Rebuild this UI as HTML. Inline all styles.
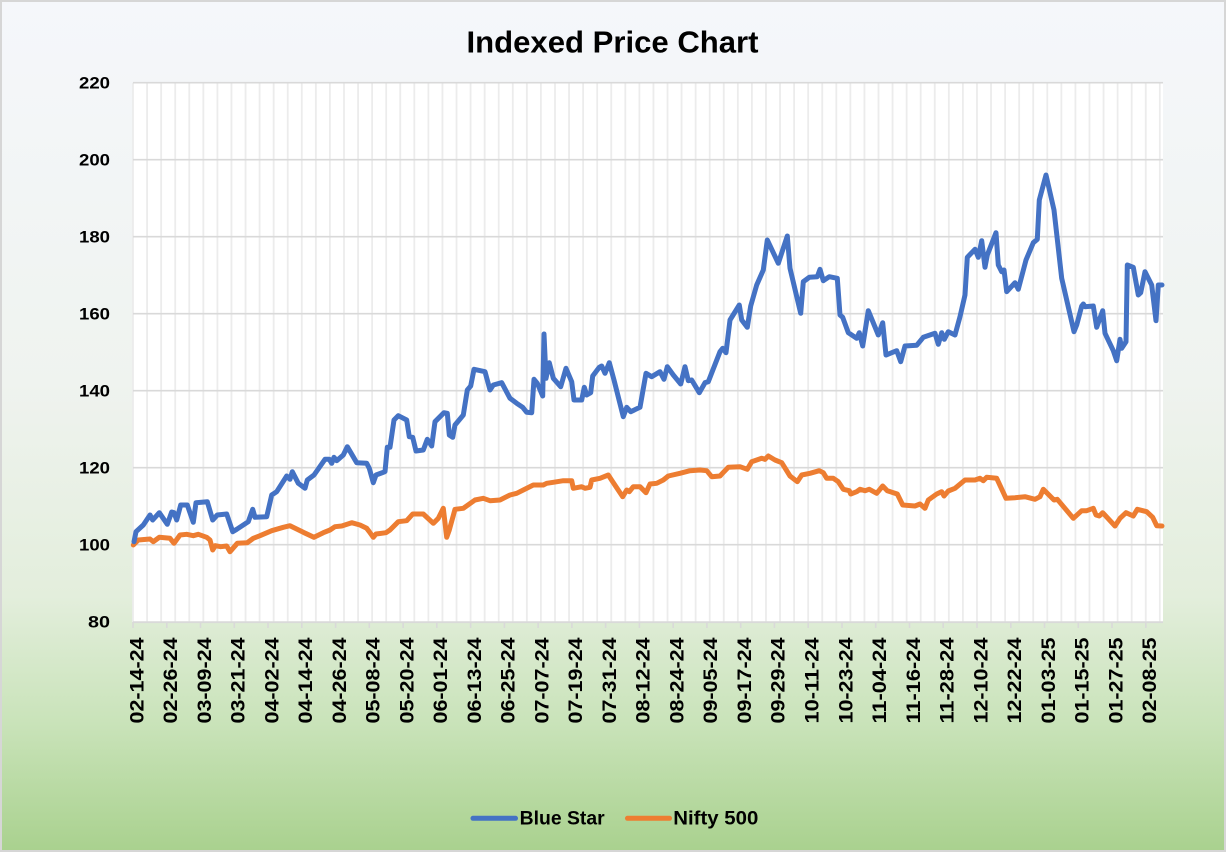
<!DOCTYPE html>
<html>
<head>
<meta charset="utf-8">
<style>
  html,body{margin:0;padding:0;}
  body{width:1226px;height:852px;overflow:hidden;}
  svg{display:block;font-family:"Liberation Sans",Arial,sans-serif;}
</style>
</head>
<body>
<svg width="1226" height="852" viewBox="0 0 1226 852" xmlns="http://www.w3.org/2000/svg">
  <defs>
    <linearGradient id="bg" x1="0" y1="0" x2="0" y2="1">
      <stop offset="0" stop-color="#f5f7fb"/>
      <stop offset="0.45" stop-color="#eff3ef"/>
      <stop offset="0.70" stop-color="#e3eedc"/>
      <stop offset="0.85" stop-color="#c9e3b9"/>
      <stop offset="1" stop-color="#a9d18e"/>
    </linearGradient>
  </defs>
  <rect x="0" y="0" width="1226" height="852" fill="url(#bg)"/>
  <rect x="1" y="1" width="1224" height="850" fill="none" stroke="#d6d6d6" stroke-width="2"/>

  <!-- plot area -->
  <rect x="133" y="82.7" width="1030" height="539.5" fill="#ffffff"/>

  <!-- vertical gridlines -->
  <path fill="none" stroke="#ececec" stroke-width="1.8" d="
M133,82.7V622 M147.07,82.7V622 M161.13,82.7V622 M175.2,82.7V622 M189.26,82.7V622 M203.33,82.7V622 M217.4,82.7V622 M231.46,82.7V622 M245.53,82.7V622 M259.59,82.7V622 M273.66,82.7V622 M287.73,82.7V622 M301.79,82.7V622 M315.86,82.7V622 M329.92,82.7V622 M343.99,82.7V622 M358.06,82.7V622 M372.12,82.7V622 M386.19,82.7V622 M400.25,82.7V622 M414.32,82.7V622 M428.39,82.7V622 M442.45,82.7V622 M456.52,82.7V622 M470.58,82.7V622 M484.65,82.7V622 M498.72,82.7V622 M512.78,82.7V622 M526.85,82.7V622 M540.91,82.7V622 M554.98,82.7V622 M569.05,82.7V622 M583.11,82.7V622 M597.18,82.7V622 M611.24,82.7V622 M625.31,82.7V622 M639.38,82.7V622 M653.44,82.7V622 M667.51,82.7V622 M681.57,82.7V622 M695.64,82.7V622 M709.71,82.7V622 M723.77,82.7V622 M737.84,82.7V622 M751.9,82.7V622 M765.97,82.7V622 M780.04,82.7V622 M794.1,82.7V622 M808.17,82.7V622 M822.23,82.7V622 M836.3,82.7V622 M850.37,82.7V622 M864.43,82.7V622 M878.5,82.7V622 M892.56,82.7V622 M906.63,82.7V622 M920.7,82.7V622 M934.76,82.7V622 M948.83,82.7V622 M962.89,82.7V622 M976.96,82.7V622 M991.03,82.7V622 M1005.09,82.7V622 M1019.16,82.7V622 M1033.22,82.7V622 M1047.29,82.7V622 M1061.36,82.7V622 M1075.42,82.7V622 M1089.49,82.7V622 M1103.55,82.7V622 M1117.62,82.7V622 M1131.69,82.7V622 M1145.75,82.7V622 M1159.82,82.7V622"/>

  <!-- horizontal gridlines -->
  <path fill="none" stroke="#d9d9d9" stroke-width="1.6" d="
M133,82.7H1163 M133,159.7H1163 M133,236.7H1163 M133,313.7H1163 M133,390.7H1163 M133,467.7H1163 M133,544.7H1163"/>
  <!-- x axis -->
  <path fill="none" stroke="#d9d9d9" stroke-width="1.8" d="M133,622.2H1163"/>
  <!-- ticks -->
  <path fill="none" stroke="#d9d9d9" stroke-width="1.6" d="
M133,622V628 M166.8,622V628 M200.5,622V628 M234.3,622V628 M268,622V628 M301.8,622V628 M335.6,622V628 M369.3,622V628 M403.1,622V628 M436.8,622V628 M470.6,622V628 M504.4,622V628 M538.1,622V628 M571.9,622V628 M605.6,622V628 M639.4,622V628 M673.2,622V628 M706.9,622V628 M740.7,622V628 M774.4,622V628 M808.2,622V628 M842,622V628 M875.7,622V628 M909.5,622V628 M943.2,622V628 M977,622V628 M1010.8,622V628 M1044.5,622V628 M1078.3,622V628 M1112,622V628 M1145.8,622V628"/>

  <!-- title -->
  <text x="612.5" y="52.7" text-anchor="middle" font-size="31" font-weight="bold" fill="#000" textLength="292" lengthAdjust="spacingAndGlyphs">Indexed Price Chart</text>

  <!-- y labels -->
  <g font-size="17" font-weight="bold" fill="#000" text-anchor="end">
    <text x="110" y="88.5" textLength="31" lengthAdjust="spacingAndGlyphs">220</text>
    <text x="110" y="165.5" textLength="31" lengthAdjust="spacingAndGlyphs">200</text>
    <text x="110" y="242.5" textLength="31" lengthAdjust="spacingAndGlyphs">180</text>
    <text x="110" y="319.5" textLength="31" lengthAdjust="spacingAndGlyphs">160</text>
    <text x="110" y="396.5" textLength="31" lengthAdjust="spacingAndGlyphs">140</text>
    <text x="110" y="473.5" textLength="31" lengthAdjust="spacingAndGlyphs">120</text>
    <text x="110" y="550.5" textLength="31" lengthAdjust="spacingAndGlyphs">100</text>
    <text x="110" y="627.5" textLength="22" lengthAdjust="spacingAndGlyphs">80</text>
  </g>

  <!-- x labels -->
  <g font-size="19" font-weight="bold" fill="#000" text-anchor="end">
    <text transform="translate(143.3,637.5) rotate(-90)" textLength="86" lengthAdjust="spacingAndGlyphs">02-14-24</text>
    <text transform="translate(177.1,637.5) rotate(-90)" textLength="86" lengthAdjust="spacingAndGlyphs">02-26-24</text>
    <text transform="translate(210.8,637.5) rotate(-90)" textLength="86" lengthAdjust="spacingAndGlyphs">03-09-24</text>
    <text transform="translate(244.6,637.5) rotate(-90)" textLength="86" lengthAdjust="spacingAndGlyphs">03-21-24</text>
    <text transform="translate(278.3,637.5) rotate(-90)" textLength="86" lengthAdjust="spacingAndGlyphs">04-02-24</text>
    <text transform="translate(312.1,637.5) rotate(-90)" textLength="86" lengthAdjust="spacingAndGlyphs">04-14-24</text>
    <text transform="translate(345.9,637.5) rotate(-90)" textLength="86" lengthAdjust="spacingAndGlyphs">04-26-24</text>
    <text transform="translate(379.6,637.5) rotate(-90)" textLength="86" lengthAdjust="spacingAndGlyphs">05-08-24</text>
    <text transform="translate(413.4,637.5) rotate(-90)" textLength="86" lengthAdjust="spacingAndGlyphs">05-20-24</text>
    <text transform="translate(447.1,637.5) rotate(-90)" textLength="86" lengthAdjust="spacingAndGlyphs">06-01-24</text>
    <text transform="translate(480.9,637.5) rotate(-90)" textLength="86" lengthAdjust="spacingAndGlyphs">06-13-24</text>
    <text transform="translate(514.7,637.5) rotate(-90)" textLength="86" lengthAdjust="spacingAndGlyphs">06-25-24</text>
    <text transform="translate(548.4,637.5) rotate(-90)" textLength="86" lengthAdjust="spacingAndGlyphs">07-07-24</text>
    <text transform="translate(582.2,637.5) rotate(-90)" textLength="86" lengthAdjust="spacingAndGlyphs">07-19-24</text>
    <text transform="translate(615.9,637.5) rotate(-90)" textLength="86" lengthAdjust="spacingAndGlyphs">07-31-24</text>
    <text transform="translate(649.7,637.5) rotate(-90)" textLength="86" lengthAdjust="spacingAndGlyphs">08-12-24</text>
    <text transform="translate(683.5,637.5) rotate(-90)" textLength="86" lengthAdjust="spacingAndGlyphs">08-24-24</text>
    <text transform="translate(717.2,637.5) rotate(-90)" textLength="86" lengthAdjust="spacingAndGlyphs">09-05-24</text>
    <text transform="translate(751,637.5) rotate(-90)" textLength="86" lengthAdjust="spacingAndGlyphs">09-17-24</text>
    <text transform="translate(784.7,637.5) rotate(-90)" textLength="86" lengthAdjust="spacingAndGlyphs">09-29-24</text>
    <text transform="translate(818.5,637.5) rotate(-90)" textLength="86" lengthAdjust="spacingAndGlyphs">10-11-24</text>
    <text transform="translate(852.3,637.5) rotate(-90)" textLength="86" lengthAdjust="spacingAndGlyphs">10-23-24</text>
    <text transform="translate(886,637.5) rotate(-90)" textLength="86" lengthAdjust="spacingAndGlyphs">11-04-24</text>
    <text transform="translate(919.8,637.5) rotate(-90)" textLength="86" lengthAdjust="spacingAndGlyphs">11-16-24</text>
    <text transform="translate(953.5,637.5) rotate(-90)" textLength="86" lengthAdjust="spacingAndGlyphs">11-28-24</text>
    <text transform="translate(987.3,637.5) rotate(-90)" textLength="86" lengthAdjust="spacingAndGlyphs">12-10-24</text>
    <text transform="translate(1021.1,637.5) rotate(-90)" textLength="86" lengthAdjust="spacingAndGlyphs">12-22-24</text>
    <text transform="translate(1054.8,637.5) rotate(-90)" textLength="86" lengthAdjust="spacingAndGlyphs">01-03-25</text>
    <text transform="translate(1088.6,637.5) rotate(-90)" textLength="86" lengthAdjust="spacingAndGlyphs">01-15-25</text>
    <text transform="translate(1122.3,637.5) rotate(-90)" textLength="86" lengthAdjust="spacingAndGlyphs">01-27-25</text>
    <text transform="translate(1156.1,637.5) rotate(-90)" textLength="86" lengthAdjust="spacingAndGlyphs">02-08-25</text>
  </g>

  <!-- Nifty 500 series -->
  <polyline fill="none" stroke="#ED7D31" stroke-width="5" stroke-linejoin="round" stroke-linecap="round" points="
133.3,545 138.3,540 150,539 153.3,541.7 159.3,537.3 170,538.3 174,543.3 180,535 186.7,534.3 193.3,535.7 198.3,534.3 206.7,537.3 210,540 212.7,550 215.3,545.7 220.7,546.7 226.7,546 230,551.7 237.3,543.3 247.3,542.7 253.3,538.3 260,535.7 271.7,530.7 283.3,527.3 290,525.7 303.3,532.3 314,537.3 323.3,532.7 330,530 335,526.7 341.7,526 351.7,522.7 360,525 366.7,528.3 369.3,531.7 373.3,537.3 376,534 386,532.7 390,530 398.3,521.7 406.7,520.7 412.7,514 423.3,514 433.3,523.3 438.3,518.3 443.3,508.3 446.7,537.3 449.3,530 455,509.3 463.3,508.3 475,500 483.3,498.3 490,500.7 500,500 510,495 516.7,493.3 523.3,490 533.3,485 543.3,485 546.7,483.3 553.3,482.3 563.3,480.7 571.7,480.7 573.3,488.3 581.7,486.7 585,488.3 590,487.3 591.7,480 600,478.3 608.3,475 612.7,481.7 622.7,496.7 626.7,490 629.3,491.7 633.3,486.7 640,486.7 646,492.7 650,484 656.7,483.3 663.3,480 668.3,476 680,473.3 690,470.7 700,470 706.7,470.7 711.7,476.7 720,476 724,471.7 728.3,467.3 740,466.7 747.3,469.3 751.7,461.7 761.7,458.3 765,459.3 768.3,456 775,460 781.7,462.7 790,476 797.3,481.7 801.7,475 810,473.3 819.3,470.7 823.3,472.7 826.7,478.3 833.3,478.3 838.3,481.7 843.3,489.3 849.3,490.7 850.7,494 856.7,491.7 860,489.3 865,490.7 869.3,489.3 876.7,493.3 882.7,486 887.3,490.7 893.3,492.7 897.3,494 902.7,505 915,506 920,504 925,508.3 928.3,500 936.7,494 941.7,491.7 944,496 948.3,491 955,488.3 965,480 975,480 980,478.3 983.3,480.7 986.7,477.3 996.7,478.3 1006,498.3 1015,497.7 1025,496.7 1035,499.3 1040,496.7 1043.3,489.3 1054,500 1057.3,499.3 1073.3,518.3 1081.7,510.7 1086.7,510.7 1093.3,508.3 1096,515 1099.3,516 1102.7,512.7 1115,526 1120,518.3 1126,512.7 1133.3,516 1137.3,509.3 1146.7,511.7 1152.7,517.3 1156.7,525.7 1162,526"/>

  <!-- Blue Star series -->
  <polyline fill="none" stroke="#4472C4" stroke-width="5" stroke-linejoin="round" stroke-linecap="round" points="
134,541.7 136,531.7 143.3,525 150,515 152.7,520 159.3,512.7 167.3,524.3 171.7,512 174,512.7 176.7,520 180.7,505 187.3,505 193.3,522.3 196,502.7 207.3,501.7 212.7,520 217.3,515 226.7,514 232.7,531.7 236.7,529.3 248.3,521.7 252.7,509.3 255,517.3 266.7,516.7 271.7,495 276.7,491.7 286.7,476 290,479.3 292.3,471.7 298.3,483.3 305,488.3 307.3,480 314,475 325,459.3 329.3,459.3 331.7,463.3 334,457.3 336.7,460.7 343.3,455 347.3,446.7 356.7,462.7 366.7,463.3 369.3,468.3 373.3,482.7 376,475 385,471.7 387.3,447.3 390,447.3 394,420 398.3,415.7 406.7,420 409.3,436.7 412.7,437.3 416,451 423.3,450 427.3,439.3 431.7,446 435,421.7 444,412.7 447.3,413.3 449.3,435 452.7,437.3 455,425 463.3,415 467.3,390 470.7,386 474,369.3 485,371.7 490,390 493.3,385 501.7,382.7 510,398.3 516.7,403.3 522.7,407.3 526.7,412.3 531.7,412.7 534,379.3 537.3,383.3 542.7,396 544,334 546,378.3 549.3,362.7 553.3,378.3 560.7,386.7 566,368.3 571.7,381.7 574,400 581.7,400 584.3,387.3 586.7,395 590.7,392.7 592.7,376 599.3,367.3 601.7,366 605,373.3 609.3,362.7 614,380 623.3,416.7 626.7,407.3 630.7,411.7 640,407.3 646,373.3 651.7,376.7 660,371.7 664,379.3 667.3,366.7 673.3,375 680.7,384 685,366.7 688.3,380.7 691.7,380 699.3,392.7 705,382.7 708.3,381.7 720,351.7 722.7,348.3 726,352.7 730,320 739.3,305 741.7,320 747.3,327.3 750.7,306 756.7,285 763.3,270 767.3,240 778.3,263.3 787.3,236 790,268.3 800.7,313.3 803.3,281.7 809.3,277.3 817.3,276.7 820,269.3 823.3,280.7 829.3,276.7 837.3,278.3 840,315 842.7,317.3 848.3,332.7 856.7,338.3 859.3,332.7 862.7,346 868.3,310.7 878.3,335 882.7,322.7 886,355 896.7,350.7 900.7,361.7 905,346 916.7,345.3 923.3,337.3 935,333.3 938.3,344.3 941.7,332.7 944.3,339.3 948.3,331.7 955,335 960,316.7 965,295 967.3,257.3 975,249.3 978.3,257.3 981.7,240.7 985,267.3 987.3,255 996,232.7 998.3,265 1001.7,271.7 1004,270 1006.7,291.7 1015,282.7 1018.3,289.3 1026,260 1033.3,242.7 1037.3,239.3 1039.3,200 1046,175 1054,210 1061.7,278.3 1074,331.7 1076.7,325 1081.7,306 1083.3,304 1085,306.7 1093.3,306 1096.7,327.3 1099.3,320 1102.7,310.7 1105,333.3 1113.3,350.7 1116.7,360.7 1120,339.3 1121.7,348.3 1126,341.7 1127.3,265 1133.3,267.3 1138.3,295 1140.7,292.7 1145,271.7 1151.7,285 1156,320.7 1158.3,285 1162,285"/>

  <!-- legend -->
  <line x1="473" y1="818.3" x2="515.5" y2="818.3" stroke="#4472C4" stroke-width="5" stroke-linecap="round"/>
  <text x="519.7" y="824.3" font-size="19" font-weight="bold" fill="#000" textLength="85" lengthAdjust="spacingAndGlyphs">Blue Star</text>
  <line x1="627.5" y1="818.3" x2="669.5" y2="818.3" stroke="#ED7D31" stroke-width="5" stroke-linecap="round"/>
  <text x="673.3" y="824.3" font-size="19" font-weight="bold" fill="#000" textLength="85" lengthAdjust="spacingAndGlyphs">Nifty 500</text>
</svg>
</body>
</html>
